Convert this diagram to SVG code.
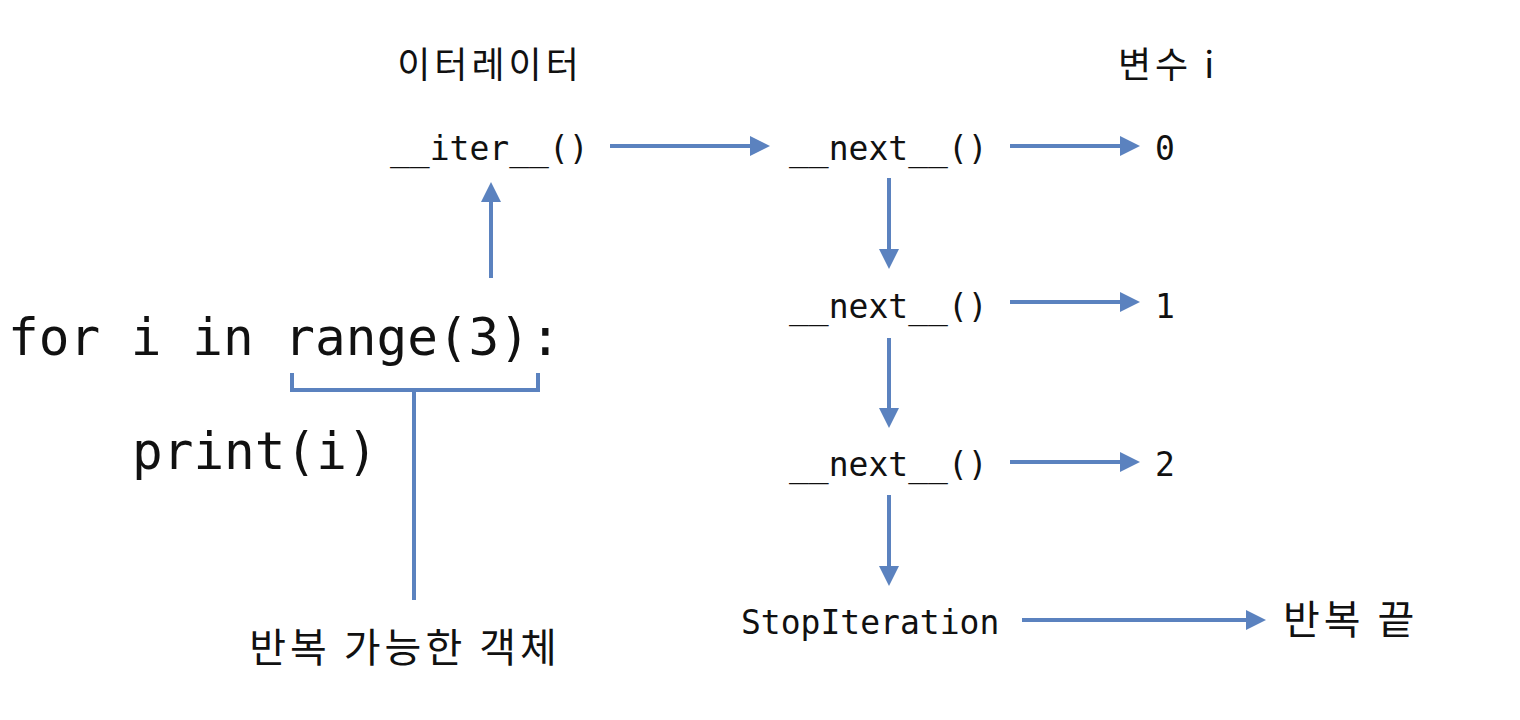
<svg xmlns="http://www.w3.org/2000/svg" width="1520" height="720" viewBox="0 0 1520 720">
<style>
.c{font-family:"DejaVu Sans Mono","Liberation Mono","Noto Sans CJK KR",monospace;fill:#111}
.k{font-family:"Noto Sans CJK KR",sans-serif;fill:#111}
.l{stroke:#5b82bf;stroke-width:4;fill:none}
</style>
<defs><marker id="a" markerWidth="5" markerHeight="5" refX="4" refY="2.5" orient="auto" markerUnits="strokeWidth"><path d="M0,0L5,2.5L0,5z" fill="#5b82bf"/></marker></defs>
<rect width="1520" height="720" fill="#fff"/>
<g id="labels">
<text class="k" x="490" y="78" font-size="36" letter-spacing="4" text-anchor="middle">이터레이터</text>
<text class="k" x="1168" y="78" font-size="36" letter-spacing="4" text-anchor="middle">변수 i</text>
</g>
<g id="iter"><text class="c" x="390" y="160" font-size="33">__iter__()</text></g>
<g id="next1"><text class="c" x="789" y="160" font-size="33">__next__()</text></g>
<g id="next2"><text class="c" x="789" y="318" font-size="33">__next__()</text></g>
<g id="next3"><text class="c" x="789" y="476" font-size="33">__next__()</text></g>
<g id="stop"><text class="c" x="741" y="634" font-size="33">StopIteration</text></g>
<g id="v0"><text class="c" x="1155" y="160" font-size="33">0</text></g>
<g id="v1"><text class="c" x="1155" y="318" font-size="33">1</text></g>
<g id="v2"><text class="c" x="1155" y="476" font-size="33">2</text></g>
<g id="end"><text class="k" x="1283" y="634" font-size="40" letter-spacing="4">반복 끝</text></g>
<g id="code">
<text class="c" x="8" y="355" font-size="51">for i in range(3):</text>
<text class="c" x="132" y="469" font-size="51">print(i)</text>
</g>
<g id="iterable"><text class="k" x="405" y="662" font-size="40" letter-spacing="4" text-anchor="middle">반복 가능한 객체</text></g>
<g id="connectors">
<path class="l" d="M292,373V390H538V373M414,390V600"/>
<path class="l" d="M491,278V186" marker-end="url(#a)"/>
<path class="l" d="M610,146H766" marker-end="url(#a)"/>
<path class="l" d="M1010,146H1136" marker-end="url(#a)"/>
<path class="l" d="M1010,302H1136" marker-end="url(#a)"/>
<path class="l" d="M1010,462H1136" marker-end="url(#a)"/>
<path class="l" d="M1022,620H1262" marker-end="url(#a)"/>
<path class="l" d="M889,178V265" marker-end="url(#a)"/>
<path class="l" d="M889,338V424" marker-end="url(#a)"/>
<path class="l" d="M889,495V582" marker-end="url(#a)"/>
</g>
</svg>
